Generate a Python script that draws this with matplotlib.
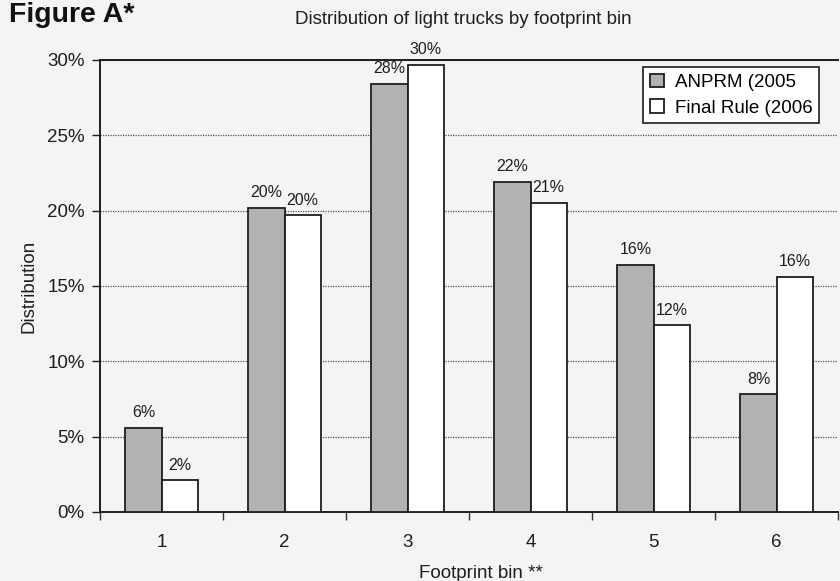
import matplotlib
matplotlib.use('Agg')
import matplotlib.pyplot as plt
import numpy as np
from matplotlib.ticker import PercentFormatter, FixedLocator

# 数据（从图中读取，单位：%）
bins = ['1', '2', '3', '4', '5', '6']
anprm_2005 = [5.6, 20.2, 28.4, 21.9, 16.4, 7.8]
final_2006 = [2.1, 19.7, 29.7, 20.5, 12.4, 15.6]
anprm_labels = ['6%', '20%', '28%', '22%', '16%', '8%']
final_labels = ['2%', '20%', '30%', '21%', '12%', '16%']
# 原图图例文字被截断
legend_labels = ['ANPRM (2005', 'Final Rule (2006']

plt.rcParams['font.family'] = ['Liberation Sans', 'DejaVu Sans']

bg = '#f4f4f4'
ink = '#1e1e1e'
fig = plt.figure(figsize=(8.4, 5.81), dpi=100, facecolor=bg)
ax = fig.add_axes([100 / 840, 1 - 512 / 581, 738 / 840, 452 / 581])
ax.set_facecolor(bg)

x = np.arange(1, len(bins) + 1)
w = 0.293

b1 = ax.bar(x - w / 2, anprm_2005, w, color='#b2b2b2', edgecolor=ink,
            linewidth=1.3, label=legend_labels[0], zorder=3)
b2 = ax.bar(x + w / 2, final_2006, w, color='white', edgecolor=ink,
            linewidth=1.3, label=legend_labels[1], zorder=3)

# 柱顶标签
for bars, labels in [(b1, anprm_labels), (b2, final_labels)]:
    for rect, txt in zip(bars, labels):
        ax.annotate(txt, (rect.get_x() + rect.get_width() / 2, rect.get_height()),
                    xytext=(0, 5.5), textcoords='offset points', ha='center', va='bottom',
                    fontsize=11.5, color=ink, zorder=6)

ax.set_xlim(0.5, 6.5)
ax.set_ylim(0, 30)
ax.yaxis.set_major_locator(FixedLocator([0, 5, 10, 15, 20, 25, 30]))
ax.yaxis.set_major_formatter(PercentFormatter(decimals=0))
ax.set_xticks(x)
ax.set_xticklabels(bins)
ax.xaxis.set_minor_locator(FixedLocator(np.arange(0.5, 7, 1.0)))
ax.tick_params(axis='x', which='major', length=0, pad=16, labelsize=13.5, colors=ink)
ax.tick_params(axis='x', which='minor', length=6, width=1, color='#333333')
ax.tick_params(axis='y', length=6, width=1, labelsize=13.5, colors=ink, pad=5)

ax.grid(axis='y', linestyle=(0, (1, 1)), color='#555555', linewidth=0.9, zorder=0)

for side in ['left', 'bottom', 'top']:
    ax.spines[side].set_color(ink)
    ax.spines[side].set_linewidth(1.4)
ax.spines['right'].set_visible(False)

ax.set_ylabel('Distribution', fontsize=13.5, color=ink, labelpad=7)

fig.text(481 / 840, 1 - 573 / 581, 'Footprint bin **', fontsize=13.5, color=ink,
         ha='center', va='center')
fig.text(463 / 840, 1 - 20 / 581, 'Distribution of light trucks by footprint bin',
         fontsize=13.5, color=ink, ha='center', va='center')
fig.text(9 / 840, 1 - 15 / 581, 'Figure A*', fontsize=20.5, fontweight='bold',
         va='center', ha='left', color='#111111')

leg = fig.legend(handles=[b1, b2], loc='upper left',
                 bbox_to_anchor=(643 / 840, 1 - 67 / 581), fontsize=13.5,
                 frameon=True, fancybox=False, edgecolor=ink,
                 facecolor='white', framealpha=1, handlelength=0.75,
                 handleheight=0.75, handletextpad=0.6, borderpad=0.35,
                 labelspacing=0.45, borderaxespad=0)
leg.get_frame().set_linewidth(1.2)

plt.savefig('out.png', dpi=100, facecolor=bg)
